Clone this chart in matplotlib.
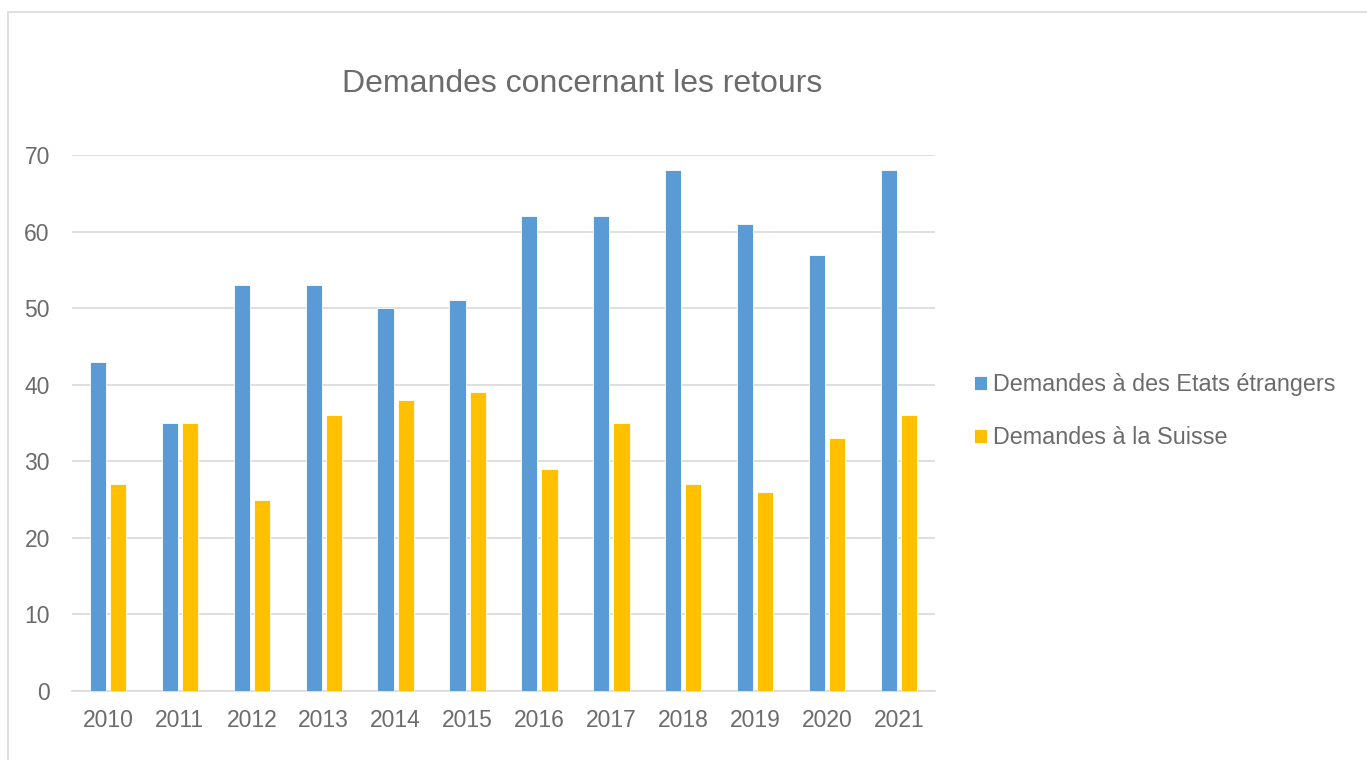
import numpy as np
import matplotlib.pyplot as plt
from matplotlib.patches import Rectangle

plt.rcParams['font.family'] = ['Liberation Sans', 'DejaVu Sans']

years = ['2010', '2011', '2012', '2013', '2014', '2015', '2016', '2017', '2018', '2019', '2020', '2021']
etats_etrangers = [43, 35, 53, 53, 50, 51, 62, 62, 68, 61, 57, 68]
suisse = [27, 35, 25, 36, 38, 39, 29, 35, 27, 26, 33, 36]
labels = ['Demandes à des Etats étrangers', 'Demandes à la Suisse']

txt = '#6b6b6b'
fig = plt.figure(figsize=(13.67, 7.6), dpi=100)
# chart frame (only top/left visible in the crop)
fig.patches.append(Rectangle((8 / 1367, -0.1), 1.2, 1 - 12 / 760 + 0.1, transform=fig.transFigure,
                             fill=False, edgecolor='#d9d9d9', linewidth=1.2))

ax = fig.add_axes([72 / 1367, 1 - 691 / 760, 863 / 1367, 536 / 760])
x = np.arange(len(years))
w = 0.225
ax.bar(x - 0.14, etats_etrangers, w, color='#5B9BD5', edgecolor='white', linewidth=0.6, label=labels[0], zorder=3)
ax.bar(x + 0.14, suisse, w, color='#FFC000', edgecolor='white', linewidth=0.6, label=labels[1], zorder=3)

ax.set_xlim(-0.5, len(years) - 0.5)
ax.set_ylim(0, 70)
ax.set_yticks(range(0, 71, 10))
ax.set_xticks(x)
ax.set_xticklabels(years)
ax.grid(axis='y', color='#d9d9d9', linewidth=1.2, zorder=0)
for s in ['top', 'right', 'left']:
    ax.spines[s].set_visible(False)
ax.spines['bottom'].set_color('#d9d9d9')
ax.spines['bottom'].set_linewidth(1.2)
ax.tick_params(axis='both', length=0, labelsize=16.5, colors=txt)
ax.tick_params(axis='y', pad=16)
ax.tick_params(axis='x', pad=13)

fig.text(582 / 1367, 1 - 84 / 760, 'Demandes concernant les retours', ha='center', va='center',
         fontsize=23, color=txt)

leg = ax.legend(loc='center left', bbox_to_anchor=(953 / 1367, 1 - 411 / 760), bbox_transform=fig.transFigure,
                frameon=False, fontsize=16.8, handlelength=0.55, handleheight=0.55, handletextpad=0.25,
                labelspacing=1.3, labelcolor=txt)

fig.savefig('out.png', dpi=100)
